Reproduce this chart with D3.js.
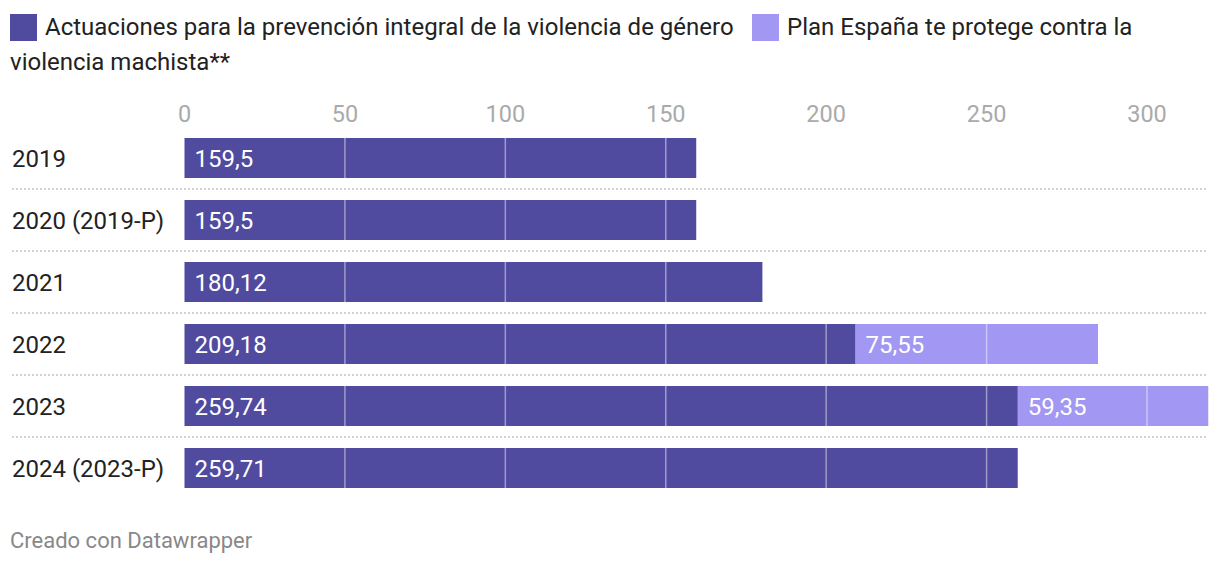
<!DOCTYPE html>
<html><head><meta charset="utf-8">
<script src="https://cdn.jsdelivr.net/npm/d3@7"></script>
<style>
body{margin:0;background:#fff;font-family:Roboto,"Noto Sans",sans-serif;}
svg text{font-family:Roboto,"Noto Sans",sans-serif;}
</style></head>
<body>
<svg id="c" width="1220" height="566"></svg>
<script>
const categories = ["2019","2020 (2019-P)","2021","2022","2023","2024 (2023-P)"];
const seriesNames = ["Actuaciones para la prevención integral de la violencia de género","Plan España te protege contra la violencia machista**"];
const actuaciones = [159.5,159.5,180.12,209.18,259.74,259.71];
const planEspana = [0,0,0,75.55,59.35,0];
const ticks = [0,50,100,150,200,250,300];
const colors = ["#504b9f","#a297f2"];

const svg = d3.select("#c");
const x = d3.scaleLinear().domain([0,300]).range([184.5,1147]);
const y0 = d3.scaleBand().domain(categories).range([127,127+62*6]);
const bw = 40;

// legend
const lg = svg.append("g");
lg.append("rect").attr("x",10).attr("y",14).attr("width",27).attr("height",27).attr("fill",colors[0]);
lg.append("text").attr("x",45).attr("y",34.5).attr("font-size",24).attr("fill","#222").text(seriesNames[0]);
lg.append("rect").attr("x",752).attr("y",14).attr("width",27).attr("height",27).attr("fill",colors[1]);
lg.append("text").attr("x",787).attr("y",34.5).attr("font-size",24).attr("fill","#222").text("Plan España te protege contra la");
lg.append("text").attr("x",10).attr("y",70).attr("font-size",24).attr("fill","#222").text("violencia machista**");

// ticks
svg.append("g").selectAll("text").data(ticks).join("text")
  .attr("x",d=>x(d)).attr("y",121.5).attr("text-anchor","middle")
  .attr("font-size",23.5).attr("fill","#aaaaaa").text(d=>d);

// separators
svg.append("g").selectAll("line").data(categories.slice(0,-1)).join("line")
  .attr("x1",12).attr("x2",1208)
  .attr("y1",d=>y0(d)+62).attr("y2",d=>y0(d)+62)
  .attr("stroke","#d2d2d2").attr("stroke-width",2).attr("stroke-dasharray","2,2");

const rows = categories.map((c,i)=>({c,a:actuaciones[i],p:planEspana[i]}));
const g = svg.append("g");
g.selectAll("rect.a").data(rows).join("rect").attr("class","a")
  .attr("x",x(0)).attr("y",d=>y0(d.c)+11).attr("height",bw)
  .attr("width",d=>x(d.a)-x(0)).attr("fill",colors[0]);
g.selectAll("rect.p").data(rows.filter(d=>d.p>0)).join("rect").attr("class","p")
  .attr("x",d=>x(d.a)).attr("y",d=>y0(d.c)+11).attr("height",bw)
  .attr("width",d=>x(d.a+d.p)-x(d.a)).attr("fill",colors[1]);

// grid lines over bars
rows.forEach(d=>{
  const tot=d.a+d.p;
  ticks.filter(t=>t>0 && t<tot).forEach(t=>{
    g.append("line").attr("x1",x(t)).attr("x2",x(t))
     .attr("y1",y0(d.c)+11).attr("y2",y0(d.c)+11+bw)
     .attr("stroke","#ffffff").attr("stroke-opacity",0.45).attr("stroke-width",1.5);
  });
});

const fmt = v=>String(v).replace(".",",");
g.selectAll("text.la").data(rows).join("text").attr("class","la")
  .attr("x",x(0)+10).attr("y",d=>y0(d.c)+11+bw/2+8.5)
  .attr("font-size",24).attr("fill","#fff").text(d=>fmt(d.a));
g.selectAll("text.lp").data(rows.filter(d=>d.p>0)).join("text").attr("class","lp")
  .attr("x",d=>x(d.a)+10).attr("y",d=>y0(d.c)+11+bw/2+8.5)
  .attr("font-size",24).attr("fill","#fff").text(d=>fmt(d.p));

// row labels
svg.append("g").selectAll("text").data(categories).join("text")
  .attr("x",12).attr("y",d=>y0(d)+11+bw/2+8.5)
  .attr("font-size",24).attr("fill","#222").text(d=>d);

svg.append("text").attr("x",10).attr("y",548).attr("font-size",22).attr("fill","#888").text("Creado con Datawrapper");
</script>
</body></html>
